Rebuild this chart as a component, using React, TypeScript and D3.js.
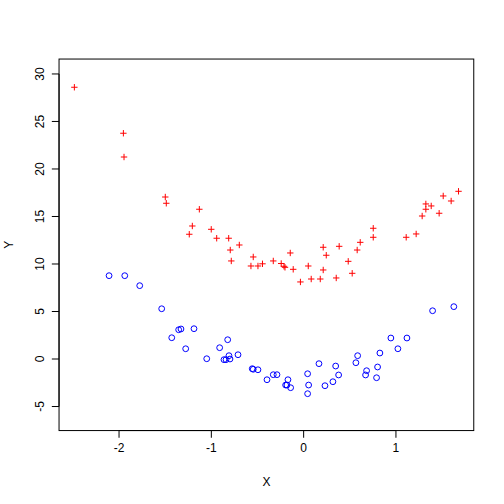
import React from "react";
import * as d3 from "d3";

// red "+" series
const redX = [
  -2.484, -1.953, -1.946, -1.499, -1.488, -1.13, -1.206, -1.239, -1.001, -0.942,
  -0.812, -0.697, -0.795, -0.784, -0.546, -0.571, -0.495, -0.446, -0.329, -0.243,
  -0.213, -0.202, -0.145, -0.113, -0.035, 0.05, 0.082, 0.18, 0.212, 0.212,
  0.245, 0.353, 0.385, 0.483, 0.526, 0.58, 0.613, 0.754, 0.754, 1.111,
  1.219, 1.284, 1.324, 1.324, 1.382, 1.468, 1.512, 1.598, 1.678,
];
const redY = [
  28.6, 23.76, 21.26, 17.05, 16.39, 15.76, 14.0, 13.13, 13.65, 12.71,
  12.71, 12.0, 11.47, 10.32, 10.74, 9.79, 9.79, 10.02, 10.32, 10.05,
  9.76, 9.65, 11.16, 9.44, 8.11, 9.79, 8.42, 8.42, 9.37, 11.76,
  10.92, 8.53, 11.86, 10.28, 9.02, 11.47, 12.28, 13.76, 12.81, 12.81,
  13.16, 15.05, 15.76, 16.32, 16.11, 15.34, 17.16, 16.63, 17.65,
];

// blue circle series
const blueX = [
  -2.108, -1.938, -1.776, -1.538, -1.354, -1.329, -1.188, -1.429, -1.278, -0.823,
  -0.91, -1.05, -0.809, -0.711, -0.863, -0.841, -0.798, -0.557, -0.546, -0.495,
  -0.397, -0.329, -0.289, -0.17, -0.195, -0.181, -0.141, 0.043, 0.054, 0.043,
  0.166, 0.231, 0.317, 0.347, 0.379, 0.566, 0.585, 0.671, 0.682, 0.801,
  0.79, 0.826, 0.945, 1.021, 1.119, 1.397, 1.627,
];
const blueY = [
  8.77, 8.77, 7.72, 5.29, 3.08, 3.16, 3.19, 2.24, 1.08, 2.03,
  1.19, 0.03, 0.35, 0.45, -0.07, -0.07, 0.0, -1.02, -1.08, -1.13,
  -2.18, -1.65, -1.65, -2.18, -2.74, -2.74, -3.02, -1.55, -2.74, -3.65,
  -0.49, -2.81, -2.39, -0.74, -1.68, -0.39, 0.35, -1.68, -1.23, -0.84,
  -1.97, 0.63, 2.21, 1.08, 2.21, 5.08, 5.51,
];

const xTicks = [-2, -1, 0, 1];
const yTicks = [-5, 0, 5, 10, 15, 20, 25, 30];

export default function App() {
  const W = 504;
  const H = 504;
  const left = 59.04;
  const right = 473.76;
  const top = 59.04;
  const bottom = 430.56;

  const x = d3.scaleLinear().domain([-2.65, 1.843]).range([left, right]);
  const y = d3.scaleLinear().domain([-7.53, 31.57]).range([bottom, top]);

  const font = "'Liberation Sans', Arial, Helvetica, sans-serif";
  const cross = 3.2;

  return (
    <svg
      width={W}
      height={H}
      style={{ position: "absolute", left: 0, top: 0, background: "white" }}
      fontFamily={font}
      fontSize={12}
    >
      <rect x={0} y={0} width={W} height={H} fill="white" />
      <rect
        x={left}
        y={top}
        width={right - left}
        height={bottom - top}
        fill="none"
        stroke="#000"
        strokeWidth={1}
      />

      {/* x axis */}
      <line x1={x(xTicks[0])} x2={x(xTicks[xTicks.length - 1])} y1={bottom} y2={bottom} stroke="#000" />
      {xTicks.map((t) => (
        <g key={"xt" + t}>
          <line x1={x(t)} x2={x(t)} y1={bottom} y2={bottom + 7.2} stroke="#000" />
          <text x={x(t)} y={bottom + 21.5} textAnchor="middle" fill="#000">
            {t}
          </text>
        </g>
      ))}
      <text x={(left + right) / 2} y={485.5} textAnchor="middle" fill="#000">
        X
      </text>

      {/* y axis */}
      <line x1={left} x2={left} y1={y(yTicks[0])} y2={y(yTicks[yTicks.length - 1])} stroke="#000" />
      {yTicks.map((t) => (
        <g key={"yt" + t}>
          <line x1={left - 7.2} x2={left} y1={y(t)} y2={y(t)} stroke="#000" />
          <text
            transform={`translate(${left - 14.6},${y(t)}) rotate(-90)`}
            textAnchor="middle"
            fill="#000"
          >
            {t}
          </text>
        </g>
      ))}
      <text
        transform={`translate(${12.5},${(top + bottom) / 2}) rotate(-90)`}
        textAnchor="middle"
        fill="#000"
      >
        Y
      </text>

      {/* red crosses */}
      {redX.map((v, i) => (
        <g key={"r" + i} stroke="#ff0000" strokeWidth={1}>
          <line x1={x(v) - cross} x2={x(v) + cross} y1={y(redY[i])} y2={y(redY[i])} />
          <line x1={x(v)} x2={x(v)} y1={y(redY[i]) - cross} y2={y(redY[i]) + cross} />
        </g>
      ))}

      {/* blue circles */}
      {blueX.map((v, i) => (
        <circle
          key={"b" + i}
          cx={x(v)}
          cy={y(blueY[i])}
          r={2.9}
          fill="none"
          stroke="#0000ff"
          strokeWidth={1}
        />
      ))}
    </svg>
  );
}
